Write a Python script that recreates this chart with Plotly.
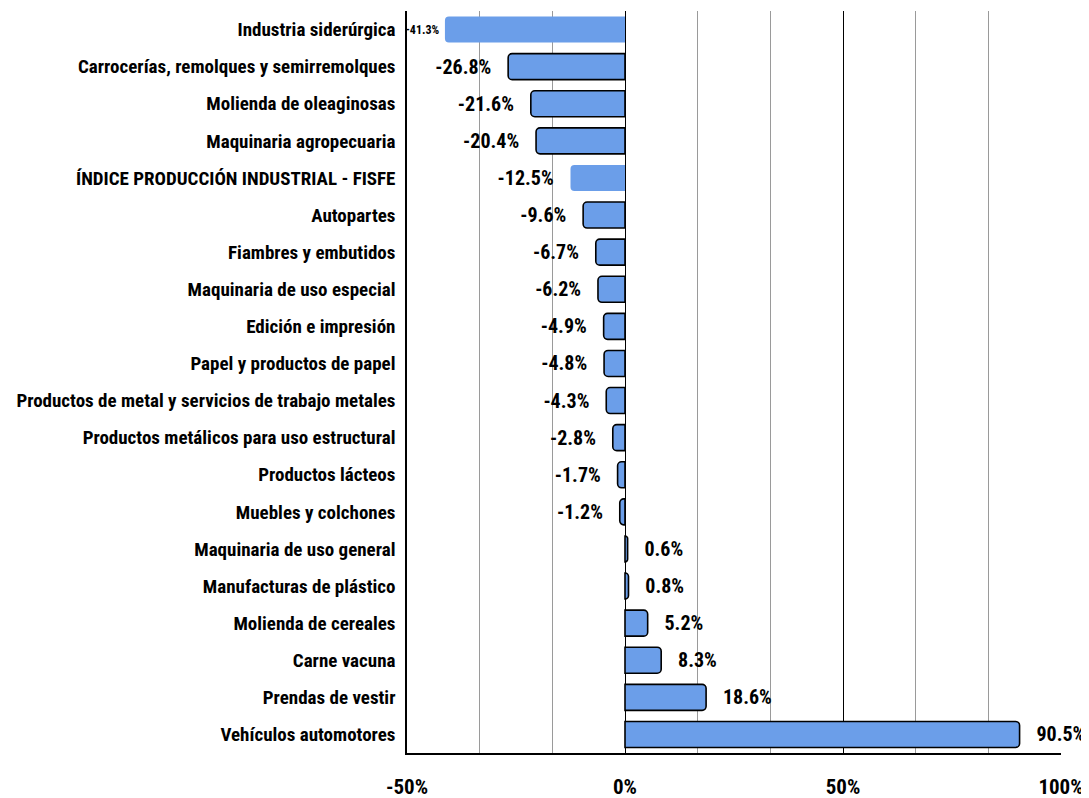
import plotly.graph_objects as go

categories = [
    "Industria siderúrgica",
    "Carrocerías, remolques y semirremolques",
    "Molienda de oleaginosas",
    "Maquinaria agropecuaria",
    "ÍNDICE PRODUCCIÓN INDUSTRIAL - FISFE",
    "Autopartes",
    "Fiambres y embutidos",
    "Maquinaria de uso especial",
    "Edición e impresión",
    "Papel y productos de papel",
    "Productos de metal y servicios de trabajo metales",
    "Productos metálicos para uso estructural",
    "Productos lácteos",
    "Muebles y colchones",
    "Maquinaria de uso general",
    "Manufacturas de plástico",
    "Molienda de cereales",
    "Carne vacuna",
    "Prendas de vestir",
    "Vehículos automotores",
]
values = [-41.3, -26.8, -21.6, -20.4, -12.5, -9.6, -6.7, -6.2, -4.9, -4.8,
          -4.3, -2.8, -1.7, -1.2, 0.6, 0.8, 5.2, 8.3, 18.6, 90.5]
outlined = [False, True, True, True, False] + [True] * 15
x_ticks = [-50, 0, 50, 100]
x_tick_labels = ["-50%", "0%", "50%", "100%"]

FONT = "Roboto Condensed, Liberation Sans Narrow, Arial Narrow, Roboto, sans-serif"
NB = "\u00a0"

labels = []
sizes = []
for v, c in zip(values, categories):
    s = f"{v:.1f}%"
    if c == "Industria siderúrgica":
        labels.append(s + NB)
        sizes.append(12)
    elif v < 0:
        labels.append(s + NB * 3)
        sizes.append(20)
    else:
        labels.append(NB * 3 + s)
        sizes.append(20)

fig = go.Figure(go.Bar(
    y=categories,
    x=values,
    orientation="h",
    marker=dict(
        color="#6B9EE9",
        line=dict(color="black", width=[1.6 if o else 0 for o in outlined]),
        cornerradius=4,
    ),
    text=labels,
    textposition="outside",
    textfont=dict(family=FONT, size=sizes, color="black", weight="bold"),
    constraintext="none",
    cliponaxis=False,
))

# page body has an 8px default margin, so the figure is sized to fit
fig.update_layout(
    width=1081, height=790,
    margin=dict(l=399, r=28, t=3, b=45, autoexpand=False),
    plot_bgcolor="white", paper_bgcolor="white",
    bargap=0.3,
    showlegend=False,
    font=dict(family=FONT, color="black"),
)
fig.update_xaxes(
    range=[-50, 100],
    tickvals=x_ticks,
    ticktext=x_tick_labels,
    tickfont=dict(size=21, family=FONT, weight="bold", color="black"),
    showgrid=True, gridcolor="black", gridwidth=1,
    minor=dict(dtick=50 / 3, tick0=0, showgrid=True, gridcolor="#9a9a9a", gridwidth=1),
    zeroline=True, zerolinecolor="black", zerolinewidth=1,
    showline=True, linecolor="black", linewidth=1.5,
    ticks="", ticklabelstandoff=14, automargin=False,
)
fig.update_yaxes(
    autorange="reversed",
    tickfont=dict(size=19, family=FONT, weight="bold", color="black"),
    showline=True, linecolor="black", linewidth=1.5,
    ticks="", ticklabelstandoff=6, automargin=False,
    showgrid=False,
)

fig.write_html("out.html")
